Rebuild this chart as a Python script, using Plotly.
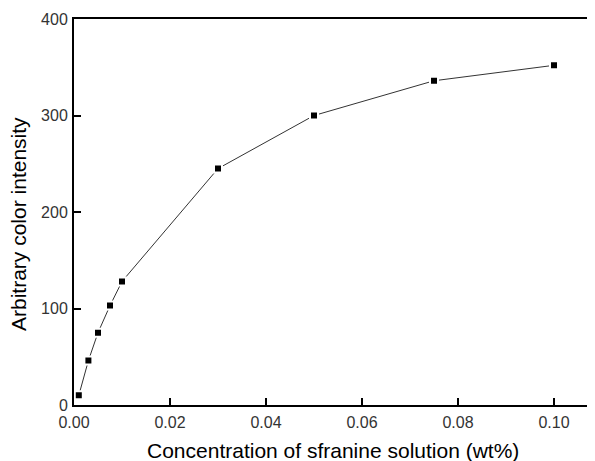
import plotly.graph_objects as go

concentration = [0.001, 0.003, 0.005, 0.0075, 0.01, 0.03, 0.05, 0.075, 0.10]
intensity = [10, 46, 75, 103, 128, 245, 300, 336, 352]

x_ticks = [0.0, 0.02, 0.04, 0.06, 0.08, 0.10]
x_ticklabels = ["0.00", "0.02", "0.04", "0.06", "0.08", "0.10"]
y_ticks = [0, 100, 200, 300, 400]

x_title = "Concentration of sfranine solution (wt%)"
y_title = "Arbitrary color intensity"

FONT = "Liberation Sans, Arial, sans-serif"

fig = go.Figure()
fig.add_trace(go.Scatter(
    x=concentration, y=intensity, mode="lines+markers",
    line=dict(color="#333333", width=1),
    marker=dict(symbol="square", size=8, color="black",
                line=dict(color="white", width=2)),
    showlegend=False, cliponaxis=False,
))

# page body has an 8px default margin, so the figure is offset by 8px
fig.update_layout(
    width=587, height=453,
    margin=dict(l=66, r=0, t=11, b=56, autoexpand=False),
    paper_bgcolor="white", plot_bgcolor="white",
    font=dict(family=FONT, color="black"),
    xaxis=dict(
        range=[0, 0.10854], tickvals=x_ticks, ticktext=x_ticklabels,
        showline=True, linecolor="black", linewidth=2, mirror=True,
        ticks="inside", ticklen=7, tickwidth=2, tickcolor="black",
        showgrid=False, zeroline=False, automargin=False,
        tickfont=dict(size=16, color="#333333", family=FONT),
        ticklabelstandoff=2,
    ),
    yaxis=dict(
        range=[0, 400], tickvals=y_ticks,
        showline=True, linecolor="black", linewidth=2, mirror=False,
        ticks="inside", ticklen=7, tickwidth=2, tickcolor="black",
        showgrid=False, zeroline=False, automargin=False,
        tickfont=dict(size=16, color="#333333", family=FONT),
        ticklabelstandoff=1,
    ),
    annotations=[
        dict(text=x_title, xref="paper", yref="paper", x=(333 - 74) / 521, y=-(450 - 405) / 386,
             xanchor="center", yanchor="middle", showarrow=False,
             font=dict(size=21, family=FONT, color="black")),
        dict(text=y_title, xref="paper", yref="paper", x=-(74 - 18) / 521, y=(405 - 224) / 386,
             xanchor="center", yanchor="middle", showarrow=False, textangle=-90,
             font=dict(size=21, family=FONT, color="black")),
    ],
)

fig.write_html("out.html")
